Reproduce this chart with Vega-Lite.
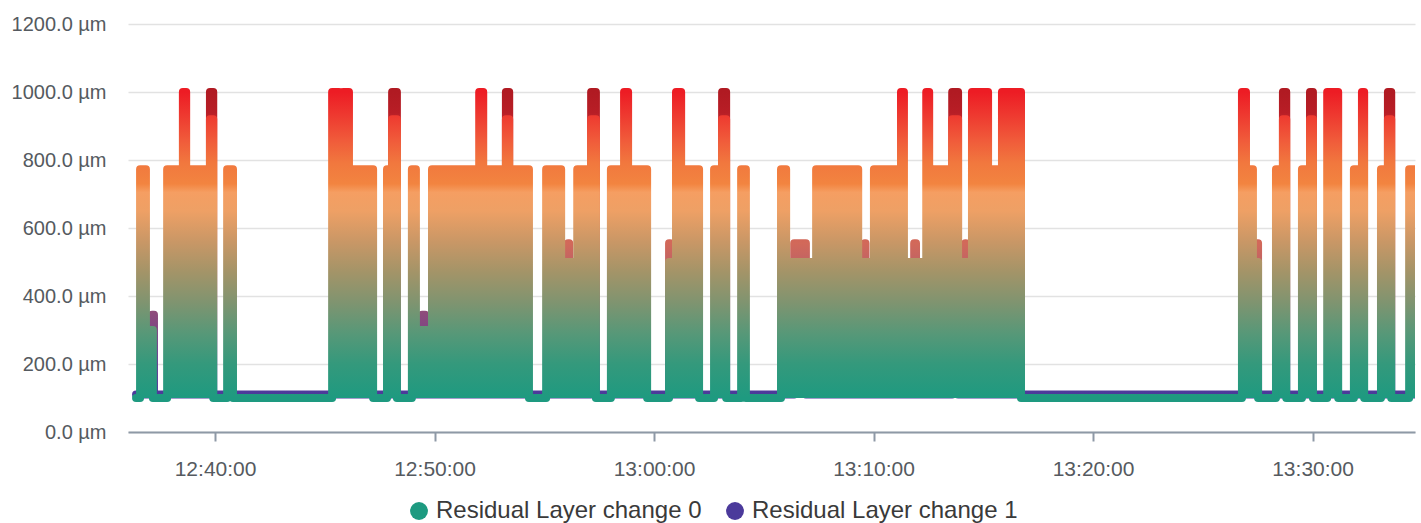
{
"$schema":"https://vega.github.io/schema/vega-lite/v6.json",
"width":1287,"height":408,
"autosize":{"type":"none"},
"padding":{"left":128,"top":24,"right":6,"bottom":91},
"background":"white",
"config":{"font":"Liberation Sans","view":{"stroke":null}},
"datasets":{
"s0":[
{"t":"2000-01-01T12:36:24Z","v":100},{"t":"2000-01-01T12:36:35Z","v":100},{"t":"2000-01-01T12:36:35Z","v":773},{"t":"2000-01-01T12:36:51Z","v":773},{"t":"2000-01-01T12:36:51Z","v":300},{"t":"2000-01-01T12:37:10Z","v":300},{"t":"2000-01-01T12:37:10Z","v":100},
{"t":"2000-01-01T12:37:49Z","v":100},{"t":"2000-01-01T12:37:49Z","v":773},{"t":"2000-01-01T12:38:32Z","v":773},{"t":"2000-01-01T12:38:32Z","v":1000},{"t":"2000-01-01T12:38:41Z","v":1000},{"t":"2000-01-01T12:38:41Z","v":773},{"t":"2000-01-01T12:39:46Z","v":773},{"t":"2000-01-01T12:39:46Z","v":920},{"t":"2000-01-01T12:39:55Z","v":920},{"t":"2000-01-01T12:39:55Z","v":100},
{"t":"2000-01-01T12:40:33Z","v":100},{"t":"2000-01-01T12:40:33Z","v":773},{"t":"2000-01-01T12:40:49Z","v":773},{"t":"2000-01-01T12:40:49Z","v":100},
{"t":"2000-01-01T12:45:20Z","v":100},{"t":"2000-01-01T12:45:20Z","v":1000},{"t":"2000-01-01T12:45:39Z","v":1000},{"t":"2000-01-01T12:45:44Z","v":960},{"t":"2000-01-01T12:45:50Z","v":1000},{"t":"2000-01-01T12:46:06Z","v":1000},{"t":"2000-01-01T12:46:06Z","v":773},{"t":"2000-01-01T12:47:12Z","v":773},{"t":"2000-01-01T12:47:12Z","v":100},
{"t":"2000-01-01T12:47:50Z","v":100},{"t":"2000-01-01T12:47:50Z","v":773},{"t":"2000-01-01T12:48:04Z","v":773},{"t":"2000-01-01T12:48:04Z","v":920},{"t":"2000-01-01T12:48:17Z","v":920},{"t":"2000-01-01T12:48:17Z","v":100},
{"t":"2000-01-01T12:48:58Z","v":100},{"t":"2000-01-01T12:48:58Z","v":773},{"t":"2000-01-01T12:49:09Z","v":773},{"t":"2000-01-01T12:49:09Z","v":300},{"t":"2000-01-01T12:49:53Z","v":300},{"t":"2000-01-01T12:49:53Z","v":773},{"t":"2000-01-01T12:52:02Z","v":773},{"t":"2000-01-01T12:52:02Z","v":1000},{"t":"2000-01-01T12:52:13Z","v":1000},{"t":"2000-01-01T12:52:13Z","v":773},{"t":"2000-01-01T12:53:15Z","v":773},{"t":"2000-01-01T12:53:15Z","v":920},{"t":"2000-01-01T12:53:24Z","v":920},{"t":"2000-01-01T12:53:24Z","v":773},{"t":"2000-01-01T12:54:18Z","v":773},{"t":"2000-01-01T12:54:18Z","v":100},
{"t":"2000-01-01T12:55:05Z","v":100},{"t":"2000-01-01T12:55:05Z","v":773},{"t":"2000-01-01T12:55:46Z","v":773},{"t":"2000-01-01T12:55:46Z","v":500},{"t":"2000-01-01T12:56:30Z","v":500},{"t":"2000-01-01T12:56:30Z","v":773},{"t":"2000-01-01T12:57:08Z","v":773},{"t":"2000-01-01T12:57:08Z","v":920},{"t":"2000-01-01T12:57:21Z","v":920},{"t":"2000-01-01T12:57:21Z","v":100},
{"t":"2000-01-01T12:58:02Z","v":100},{"t":"2000-01-01T12:58:02Z","v":773},{"t":"2000-01-01T12:58:38Z","v":773},{"t":"2000-01-01T12:58:38Z","v":1000},{"t":"2000-01-01T12:58:49Z","v":1000},{"t":"2000-01-01T12:58:49Z","v":773},{"t":"2000-01-01T12:59:41Z","v":773},{"t":"2000-01-01T12:59:41Z","v":100},
{"t":"2000-01-01T13:00:41Z","v":100},{"t":"2000-01-01T13:00:41Z","v":500},{"t":"2000-01-01T13:01:00Z","v":500},{"t":"2000-01-01T13:01:00Z","v":1000},{"t":"2000-01-01T13:01:14Z","v":1000},{"t":"2000-01-01T13:01:14Z","v":773},{"t":"2000-01-01T13:02:03Z","v":773},{"t":"2000-01-01T13:02:03Z","v":100},
{"t":"2000-01-01T13:02:44Z","v":100},{"t":"2000-01-01T13:02:44Z","v":773},{"t":"2000-01-01T13:03:06Z","v":773},{"t":"2000-01-01T13:03:06Z","v":920},{"t":"2000-01-01T13:03:17Z","v":920},{"t":"2000-01-01T13:03:17Z","v":100},
{"t":"2000-01-01T13:03:58Z","v":100},{"t":"2000-01-01T13:03:58Z","v":773},{"t":"2000-01-01T13:04:11Z","v":773},{"t":"2000-01-01T13:04:11Z","v":100},
{"t":"2000-01-01T13:05:47Z","v":100},{"t":"2000-01-01T13:05:47Z","v":773},{"t":"2000-01-01T13:06:01Z","v":773},{"t":"2000-01-01T13:06:01Z","v":500},{"t":"2000-01-01T13:07:23Z","v":500},{"t":"2000-01-01T13:07:23Z","v":773},{"t":"2000-01-01T13:09:18Z","v":773},{"t":"2000-01-01T13:09:18Z","v":500},{"t":"2000-01-01T13:10:01Z","v":500},{"t":"2000-01-01T13:10:01Z","v":773},{"t":"2000-01-01T13:11:15Z","v":773},{"t":"2000-01-01T13:11:15Z","v":1000},{"t":"2000-01-01T13:11:23Z","v":1000},{"t":"2000-01-01T13:11:23Z","v":500},{"t":"2000-01-01T13:12:24Z","v":500},{"t":"2000-01-01T13:12:24Z","v":1000},{"t":"2000-01-01T13:12:32Z","v":1000},{"t":"2000-01-01T13:12:32Z","v":250},{"t":"2000-01-01T13:12:43Z","v":250},{"t":"2000-01-01T13:12:43Z","v":773},{"t":"2000-01-01T13:13:35Z","v":773},{"t":"2000-01-01T13:13:35Z","v":920},{"t":"2000-01-01T13:13:51Z","v":920},{"t":"2000-01-01T13:13:51Z","v":500},{"t":"2000-01-01T13:14:29Z","v":500},{"t":"2000-01-01T13:14:29Z","v":1000},{"t":"2000-01-01T13:15:13Z","v":1000},{"t":"2000-01-01T13:15:13Z","v":773},{"t":"2000-01-01T13:15:51Z","v":773},{"t":"2000-01-01T13:15:51Z","v":1000},{"t":"2000-01-01T13:16:43Z","v":1000},{"t":"2000-01-01T13:16:43Z","v":100},
{"t":"2000-01-01T13:26:47Z","v":100},{"t":"2000-01-01T13:26:47Z","v":1000},{"t":"2000-01-01T13:26:58Z","v":1000},{"t":"2000-01-01T13:26:58Z","v":773},{"t":"2000-01-01T13:27:17Z","v":773},{"t":"2000-01-01T13:27:17Z","v":500},{"t":"2000-01-01T13:27:31Z","v":500},{"t":"2000-01-01T13:27:31Z","v":100},
{"t":"2000-01-01T13:28:20Z","v":100},{"t":"2000-01-01T13:28:20Z","v":773},{"t":"2000-01-01T13:28:39Z","v":773},{"t":"2000-01-01T13:28:39Z","v":920},{"t":"2000-01-01T13:28:48Z","v":920},{"t":"2000-01-01T13:28:48Z","v":100},
{"t":"2000-01-01T13:29:31Z","v":100},{"t":"2000-01-01T13:29:31Z","v":773},{"t":"2000-01-01T13:29:53Z","v":773},{"t":"2000-01-01T13:29:53Z","v":920},{"t":"2000-01-01T13:30:01Z","v":920},{"t":"2000-01-01T13:30:01Z","v":100},
{"t":"2000-01-01T13:30:40Z","v":100},{"t":"2000-01-01T13:30:40Z","v":1000},{"t":"2000-01-01T13:31:10Z","v":1000},{"t":"2000-01-01T13:31:10Z","v":100},
{"t":"2000-01-01T13:31:53Z","v":100},{"t":"2000-01-01T13:31:53Z","v":773},{"t":"2000-01-01T13:32:15Z","v":773},{"t":"2000-01-01T13:32:15Z","v":1000},{"t":"2000-01-01T13:32:21Z","v":1000},{"t":"2000-01-01T13:32:21Z","v":100},
{"t":"2000-01-01T13:33:07Z","v":100},{"t":"2000-01-01T13:33:07Z","v":773},{"t":"2000-01-01T13:33:26Z","v":773},{"t":"2000-01-01T13:33:26Z","v":920},{"t":"2000-01-01T13:33:35Z","v":920},{"t":"2000-01-01T13:33:35Z","v":100},
{"t":"2000-01-01T13:34:24Z","v":100},{"t":"2000-01-01T13:34:24Z","v":773},{"t":"2000-01-01T13:34:54Z","v":773}
],
"s1":[
{"t":"2000-01-01T12:36:24Z","v":110},
{"t":"2000-01-01T12:37:08Z","v":110},{"t":"2000-01-01T12:37:08Z","v":345},{"t":"2000-01-01T12:37:13Z","v":345},{"t":"2000-01-01T12:37:13Z","v":110},
{"t":"2000-01-01T12:39:46Z","v":110},{"t":"2000-01-01T12:39:46Z","v":1000},{"t":"2000-01-01T12:39:55Z","v":1000},{"t":"2000-01-01T12:39:55Z","v":110},
{"t":"2000-01-01T12:48:04Z","v":110},{"t":"2000-01-01T12:48:04Z","v":1000},{"t":"2000-01-01T12:48:17Z","v":1000},{"t":"2000-01-01T12:48:17Z","v":110},
{"t":"2000-01-01T12:49:26Z","v":110},{"t":"2000-01-01T12:49:26Z","v":345},{"t":"2000-01-01T12:49:34Z","v":345},{"t":"2000-01-01T12:49:34Z","v":110},
{"t":"2000-01-01T12:53:15Z","v":110},{"t":"2000-01-01T12:53:15Z","v":1000},{"t":"2000-01-01T12:53:24Z","v":1000},{"t":"2000-01-01T12:53:24Z","v":110},
{"t":"2000-01-01T12:56:05Z","v":110},{"t":"2000-01-01T12:56:05Z","v":555},{"t":"2000-01-01T12:56:08Z","v":555},{"t":"2000-01-01T12:56:08Z","v":110},
{"t":"2000-01-01T12:57:08Z","v":110},{"t":"2000-01-01T12:57:08Z","v":1000},{"t":"2000-01-01T12:57:21Z","v":1000},{"t":"2000-01-01T12:57:21Z","v":110},
{"t":"2000-01-01T13:00:41Z","v":110},{"t":"2000-01-01T13:00:41Z","v":555},{"t":"2000-01-01T13:00:44Z","v":555},{"t":"2000-01-01T13:00:44Z","v":110},
{"t":"2000-01-01T13:03:06Z","v":110},{"t":"2000-01-01T13:03:06Z","v":1000},{"t":"2000-01-01T13:03:17Z","v":1000},{"t":"2000-01-01T13:03:17Z","v":110},
{"t":"2000-01-01T13:06:23Z","v":110},{"t":"2000-01-01T13:06:23Z","v":555},{"t":"2000-01-01T13:06:55Z","v":555},{"t":"2000-01-01T13:06:55Z","v":110},
{"t":"2000-01-01T13:09:36Z","v":110},{"t":"2000-01-01T13:09:36Z","v":555},{"t":"2000-01-01T13:09:38Z","v":555},{"t":"2000-01-01T13:09:38Z","v":110},
{"t":"2000-01-01T13:11:51Z","v":110},{"t":"2000-01-01T13:11:51Z","v":555},{"t":"2000-01-01T13:11:56Z","v":555},{"t":"2000-01-01T13:11:56Z","v":110},
{"t":"2000-01-01T13:13:35Z","v":110},{"t":"2000-01-01T13:13:35Z","v":1000},{"t":"2000-01-01T13:13:51Z","v":1000},{"t":"2000-01-01T13:13:51Z","v":110},
{"t":"2000-01-01T13:14:11Z","v":110},{"t":"2000-01-01T13:14:11Z","v":555},{"t":"2000-01-01T13:14:12Z","v":555},{"t":"2000-01-01T13:14:12Z","v":110},
{"t":"2000-01-01T13:27:28Z","v":110},{"t":"2000-01-01T13:27:28Z","v":555},{"t":"2000-01-01T13:27:31Z","v":555},{"t":"2000-01-01T13:27:31Z","v":110},
{"t":"2000-01-01T13:28:39Z","v":110},{"t":"2000-01-01T13:28:39Z","v":1000},{"t":"2000-01-01T13:28:48Z","v":1000},{"t":"2000-01-01T13:28:48Z","v":110},
{"t":"2000-01-01T13:29:53Z","v":110},{"t":"2000-01-01T13:29:53Z","v":1000},{"t":"2000-01-01T13:30:01Z","v":1000},{"t":"2000-01-01T13:30:01Z","v":110},
{"t":"2000-01-01T13:33:26Z","v":110},{"t":"2000-01-01T13:33:26Z","v":1000},{"t":"2000-01-01T13:33:35Z","v":1000},{"t":"2000-01-01T13:33:35Z","v":110},
{"t":"2000-01-01T13:34:54Z","v":110}
],
"leg":[{"series":"Residual Layer change 0"},{"series":"Residual Layer change 1"}]
},
"layer":[
{"data":{"name":"s1"},
 "mark":{"type":"area","clip":true,"fill":{"gradient":"linear","x1":0,"y1":0,"x2":0,"y2":1,"stops":[{"offset":0,"color":"#b01a22"},{"offset":0.068,"color":"#b81e26"},{"offset":0.15,"color":"#d8413a"},{"offset":0.5,"color":"#d2695a"},{"offset":0.62,"color":"#b25e6c"},{"offset":0.736,"color":"#8c4a7c"},{"offset":0.87,"color":"#6a4290"},{"offset":1,"color":"#4b3a9b"}]}},
 "encoding":{
  "x":{"field":"t","type":"temporal","scale":{"type":"utc","domain":[{"year":2000,"month":1,"date":1,"hours":12,"minutes":36,"seconds":2,"utc":true},{"year":2000,"month":1,"date":1,"hours":13,"minutes":34,"seconds":40,"utc":true}]},
   "axis":{"title":null,"labelExpr":"utcFormat(datum.value, '%H:%M:%S')","grid":false,"values":[{"year":2000,"month":1,"date":1,"hours":12,"minutes":40,"utc":true},{"year":2000,"month":1,"date":1,"hours":12,"minutes":50,"utc":true},{"year":2000,"month":1,"date":1,"hours":13,"minutes":0,"utc":true},{"year":2000,"month":1,"date":1,"hours":13,"minutes":10,"utc":true},{"year":2000,"month":1,"date":1,"hours":13,"minutes":20,"utc":true},{"year":2000,"month":1,"date":1,"hours":13,"minutes":30,"utc":true}],
   "domainColor":"#8e99a6","domainWidth":2,"tickColor":"#8e99a6","tickWidth":2,"tickSize":9,"labelFontSize":21,"labelColor":"#555a60","labelPadding":17,"labelFont":"Liberation Sans"}},
  "y":{"field":"v","type":"quantitative","scale":{"domain":[0,1200],"nice":false},
   "axis":{"title":null,"values":[0,200,400,600,800,1000,1200],"labelExpr":"format(datum.value,'.1f') + ' µm'","domain":false,"ticks":false,"gridColor":"#e2e2e2","gridWidth":1.5,"labelFontSize":20,"labelColor":"#555a60","labelPadding":22,"labelFont":"Liberation Sans"}},
  "y2":{"datum":110},
  "order":{"value":null}}},
{"data":{"name":"s1"},
 "mark":{"type":"line","clip":true,"strokeWidth":8,"strokeJoin":"round","strokeCap":"round","stroke":{"gradient":"linear","x1":0,"y1":0,"x2":0,"y2":1,"stops":[{"offset":0,"color":"#b01a22"},{"offset":0.068,"color":"#b81e26"},{"offset":0.15,"color":"#d8413a"},{"offset":0.5,"color":"#d2695a"},{"offset":0.62,"color":"#b25e6c"},{"offset":0.736,"color":"#8c4a7c"},{"offset":0.87,"color":"#6a4290"},{"offset":1,"color":"#4b3a9b"}]}},
 "encoding":{
  "x":{"field":"t","type":"temporal"},
  "y":{"field":"v","type":"quantitative"},
  "order":{"value":null}}},
{"data":{"name":"s0"},
 "mark":{"type":"area","clip":true,"fill":{"gradient":"linear","x1":0,"y1":0,"x2":0,"y2":1,"stops":[{"offset":0,"color":"#ed1c24"},{"offset":0.078,"color":"#ee3a30"},{"offset":0.156,"color":"#f05a3a"},{"offset":0.233,"color":"#f1783e"},{"offset":0.3,"color":"#f28440"},{"offset":0.328,"color":"#f59e62"},{"offset":0.389,"color":"#eea065"},{"offset":0.489,"color":"#c99766"},{"offset":0.589,"color":"#a39468"},{"offset":0.689,"color":"#7f9470"},{"offset":0.789,"color":"#579878"},{"offset":0.889,"color":"#34997c"},{"offset":1,"color":"#1e9a80"}]}},
 "encoding":{
  "x":{"field":"t","type":"temporal"},
  "y":{"field":"v","type":"quantitative"},
  "y2":{"datum":100},
  "order":{"value":null}}},
{"data":{"name":"s0"},
 "mark":{"type":"line","clip":true,"strokeWidth":8,"strokeJoin":"round","strokeCap":"round","stroke":{"gradient":"linear","x1":0,"y1":0,"x2":0,"y2":1,"stops":[{"offset":0,"color":"#ed1c24"},{"offset":0.078,"color":"#ee3a30"},{"offset":0.156,"color":"#f05a3a"},{"offset":0.233,"color":"#f1783e"},{"offset":0.3,"color":"#f28440"},{"offset":0.328,"color":"#f59e62"},{"offset":0.389,"color":"#eea065"},{"offset":0.489,"color":"#c99766"},{"offset":0.589,"color":"#a39468"},{"offset":0.689,"color":"#7f9470"},{"offset":0.789,"color":"#579878"},{"offset":0.889,"color":"#34997c"},{"offset":1,"color":"#1e9a80"}]}},
 "encoding":{
  "x":{"field":"t","type":"temporal"},
  "y":{"field":"v","type":"quantitative"},
  "order":{"value":null}}},
{"data":{"name":"leg"},
 "mark":{"type":"point","filled":true,"size":0},
 "encoding":{
  "color":{"field":"series","type":"nominal","scale":{"domain":["Residual Layer change 0","Residual Layer change 1"],"range":["#1d9a80","#4b3a9b"]},
   "legend":{"title":null,"orient":"none","legendX":279,"legendY":475,"direction":"horizontal","symbolType":"circle","symbolSize":320,"symbolOpacity":1,"symbolStrokeWidth":0,"labelFontSize":24,"labelLimit":0,"labelColor":"#3a3a3a","labelFont":"Liberation Sans","columnPadding":21,"labelOffset":5,"padding":0}}}}
]
}
